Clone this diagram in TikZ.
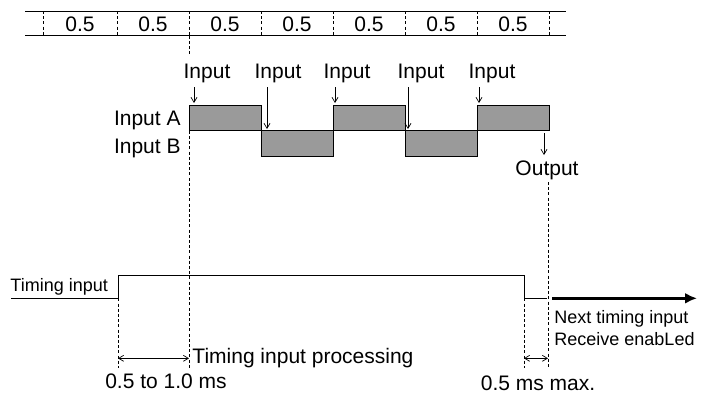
\documentclass[tikz,border=0pt]{standalone}
\usepackage{fontspec}
\setmainfont{Liberation Sans}
\usetikzlibrary{arrows.meta}
\definecolor{boxgray}{HTML}{9A9A9A}
\begin{document}
\begin{tikzpicture}[x=1pt, y=-1pt, line width=0.9pt,
  lbl/.style={inner sep=0pt, font=\fontsize{21}{24}\selectfont},
  smalllbl/.style={inner sep=0pt, font=\fontsize{18}{21}\selectfont},
  guide/.style={line width=0.8pt, dash pattern=on 3pt off 2.2pt},
  pulse/.style={draw, fill=boxgray},
  arrow/.style={-{Straight Barb[length=5pt, width=6pt]}, line width=0.7pt},
  span/.style={{Straight Barb[length=5pt, width=6pt]}-{Straight Barb[length=5pt, width=6pt]}, line width=0.7pt},
  nextarrow/.style={-{Latex[length=12pt, width=11pt]}, line width=3.5pt}]
\useasboundingbox (0,0) rectangle (703,397);

% time scale
\draw (25,11) -- (566,11); \draw (25,35.7) -- (566,35.7);
\foreach \x in {43,117,189,261,333,405,477,549} \draw[guide] (\x,11) -- (\x,35.7);
\foreach \x/\n in {80/1,153/2,225/3,297/4,369/5,441/6,513/7}
  \node[lbl, anchor=base] (slot\n) at (\x,31.7) {0.5};

% guide lines
\draw[guide] (189,35.7) -- (189,56); \draw[guide] (189,130.7) -- (189,368);
\draw[guide] (118,298.3) -- (118,368);
\draw[guide] (524,298.3) -- (524,368); \draw[guide] (548,182) -- (548,368);

% input A / input B
\draw[pulse] (189,105.7) rectangle (261,130.7); \draw[pulse] (261,130.7) rectangle (333,156.7);
\draw[pulse] (333,105.7) rectangle (405,130.7); \draw[pulse] (405,130.7) rectangle (477,156.7);
\draw[pulse] (477,105.7) rectangle (549,130.7);
\node[lbl, anchor=base east] (inA) at (181,125) {Input A};
\node[lbl, anchor=base east] (inB) at (181,153.3) {Input B};

% input arrows
\foreach \x/\ax/\ay/\n in {207/194/103/1,278/267/129/2,347/335/103/3,421/408/129/4,492/479/103/5} {
  \node[lbl, anchor=base] (in\n) at (\x,78.3) {Input};
  \coordinate (tip\n) at (\ax,\ay);
  \draw[arrow] (tip\n |- in\n.south) ++(0,4) -- (tip\n);
}
\node[lbl, anchor=base] (out) at (547,175) {Output};
\coordinate (outtop) at (544,133); \coordinate (outtip) at (544,155);
\draw[arrow] (outtop) -- (outtip);

% timing input
\node[smalllbl, anchor=base west] (timing) at (10,291.7) {Timing input};
\draw (11,298.3) -- (118,298.3) -- (118,275) -- (524,275) -- (524,298.3) -- (547,298.3);
\coordinate (nxs) at (552,298.3); \coordinate (nxe) at (697,298.3);
\draw[nextarrow] (nxs) -- (nxe);
\node[smalllbl, anchor=base west] (next) at (554,323.3) {Next timing input};
\node[smalllbl, anchor=base west] (recv) at (554,345.7) {Receive enabLed};

% spans
\coordinate (p1) at (118,358.3); \coordinate (p2) at (189,358.3);
\draw[span] (p1) -- (p2);
\node[lbl, anchor=base west] (proc) at (192,363.3) {Timing input processing};
\node[lbl, anchor=base] (procms) at (166,388.3) {0.5 to 1.0 ms};
\coordinate (m1) at (524,358.3); \coordinate (m2) at (548,358.3);
\draw[span] (m1) -- (m2);
\node[lbl, anchor=base] (maxms) at (538,390) {0.5 ms max.};
\end{tikzpicture}
\end{document}
